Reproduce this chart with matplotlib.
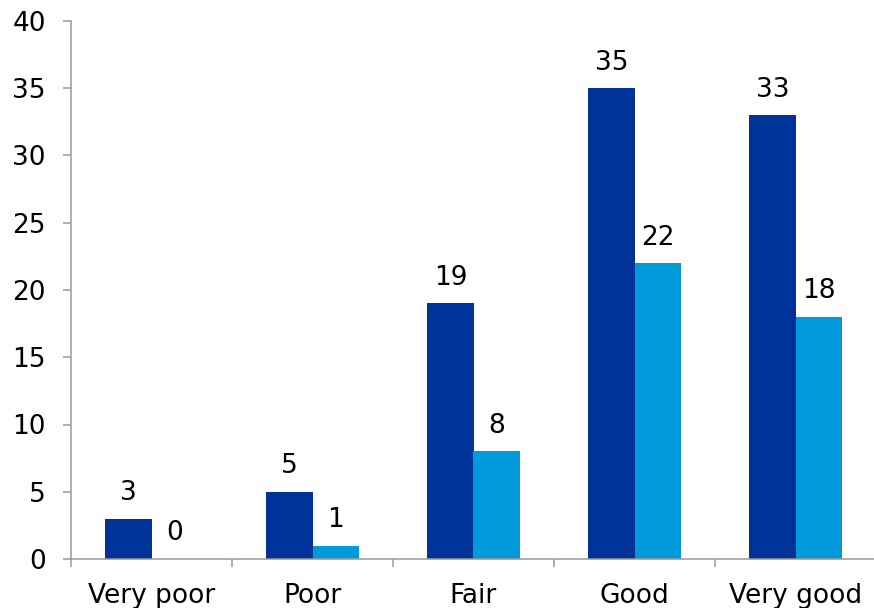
import numpy as np
import matplotlib.pyplot as plt
from matplotlib.ticker import FixedLocator, NullFormatter

# ratings and counts for the two series
categories = ['Very poor', 'Poor', 'Fair', 'Good', 'Very good']
series_a = [3, 5, 19, 35, 33]
series_b = [0, 1, 8, 22, 18]

dark_blue = '#003399'
light_blue = '#009ADA'
axis_grey = '#999999'
fs = 19

plt.rcParams['font.family'] = 'DejaVu Sans'

fig = plt.figure(figsize=(8.74, 6.08), dpi=100)
ax = fig.add_axes([71 / 874, 49 / 608, 805 / 874, 538 / 608])

x = np.arange(len(categories))
w = 0.286

bars_a = ax.bar(x - w / 2, series_a, width=w, color=dark_blue, zorder=2)
bars_b = ax.bar(x + w / 2, series_b, width=w, color=light_blue, zorder=2)

# value labels above each bar
for bars, vals in ((bars_a, series_a), (bars_b, series_b)):
    for b, v in zip(bars, vals):
        ax.annotate(str(v), (b.get_x() + b.get_width() / 2, v),
                    xytext=(0, 9), textcoords='offset points',
                    ha='center', va='bottom', fontsize=fs, color='black')

ax.set_xlim(-0.5, 4.5)
ax.set_ylim(0, 40)
ax.set_yticks(range(0, 41, 5))

# tick marks between categories, labels centred under each group
ax.xaxis.set_major_locator(FixedLocator(np.arange(-0.5, 5, 1)))
ax.xaxis.set_major_formatter(NullFormatter())
ax.xaxis.set_minor_locator(FixedLocator(x))
ax.set_xticklabels(categories, minor=True)
ax.tick_params(axis='x', which='minor', length=0, pad=17, labelsize=fs)
ax.tick_params(axis='x', which='major', length=6, width=1.1, color=axis_grey,
               direction='out')
ax.tick_params(axis='y', length=6, width=1.1, color=axis_grey,
               direction='out', pad=12, labelsize=fs)

for side in ('top', 'right'):
    ax.spines[side].set_visible(False)
for side in ('left', 'bottom'):
    ax.spines[side].set_color(axis_grey)
    ax.spines[side].set_linewidth(1.1)

fig.savefig('out.png', dpi=100)
